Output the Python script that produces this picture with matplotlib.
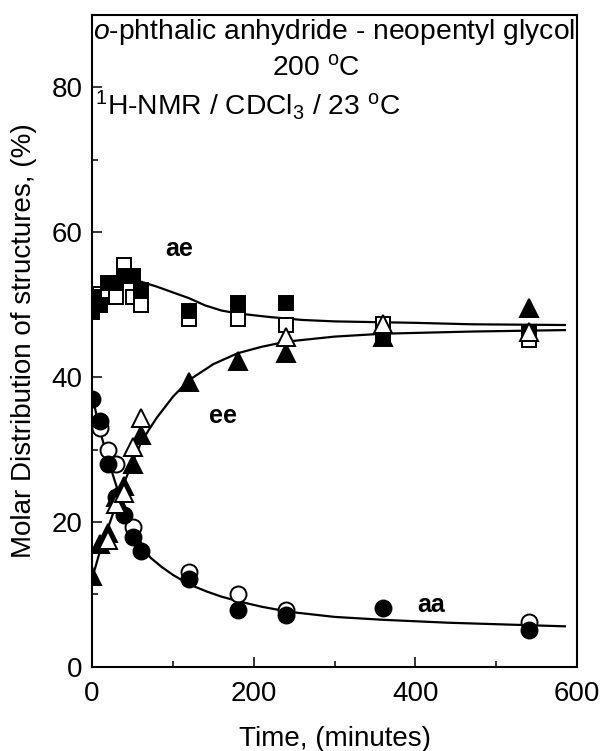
import numpy as np
import matplotlib
matplotlib.use('Agg')
import matplotlib.pyplot as plt

plt.rcParams['font.family'] = ['Liberation Sans', 'DejaVu Sans']
plt.rcParams['mathtext.fontset'] = 'custom'
plt.rcParams['mathtext.rm'] = 'Liberation Sans'
plt.rcParams['mathtext.it'] = 'Liberation Sans:italic'
plt.rcParams['mathtext.bf'] = 'Liberation Sans:bold'
plt.rcParams['mathtext.default'] = 'regular'

# ae structures (squares)
ae_t_fill = [0, 0, 10, 20, 30, 40, 50, 60, 120, 180, 240, 360, 540]
ae_fill = [51, 49, 50, 53, 53, 54, 54, 52, 49.1, 50.3, 50.3, 45.8, 46.2]
ae_t_open = [0, 10, 20, 30, 40, 50, 60, 120, 180, 240, 360, 540]
ae_open = [50, 51.5, 51, 51, 55.5, 51, 50, 48, 48.1, 47.2, 47.3, 45.2]

# ee structures (triangles)
ee_t_fill = [0, 10, 20, 30, 40, 50, 60, 120, 180, 240, 360, 540]
ee_fill = [12.5, 17, 18.5, 23.5, 25, 28, 32, 39.4, 42.2, 43.4, 45.5, 49.6]
ee_t_open = [20, 30, 40, 50, 60, 240, 360, 540]
ee_open = [17.5, 22.5, 24, 30.3, 34.4, 45.5, 47.3, 46.3]

# aa structures (circles)
aa_t_fill = [0, 10, 20, 30, 40, 50, 60, 120, 180, 240, 360, 540]
aa_fill = [37, 34, 28, 23.5, 21, 18, 16, 12.2, 7.9, 7.1, 8.1, 5.1]
aa_t_open = [10, 20, 30, 50, 120, 180, 240, 540]
aa_open = [33, 30, 28, 19.3, 13.1, 10.1, 7.9, 6.2]

# fitted curves
ae_curve_t = [0, 10, 20, 30, 40, 50, 60, 80, 100, 120, 140, 160, 180, 220, 260, 300, 350, 400, 470, 585]
ae_curve = [50.5, 51.6, 52.6, 53.3, 53.6, 53.6, 53.2, 52.5, 51.7, 50.9, 49.9, 49.2, 48.8, 48.3, 47.9, 47.7, 47.6, 47.5, 47.3, 47.2]
ee_curve_t = [0, 8, 16, 30, 40, 50, 60, 70, 80, 100, 120, 150, 180, 210, 240, 300, 360, 470, 585]
ee_curve = [12.2, 15.3, 18, 22.5, 25.5, 28.3, 30.8, 32.7, 34.4, 37.3, 39.6, 41.8, 43.3, 44.2, 44.9, 45.6, 46.0, 46.3, 46.5]
aa_curve_t = [0, 10, 20, 30, 40, 50, 60, 72, 86, 100, 120, 142, 160, 183, 210, 244, 300, 360, 440, 585]
aa_curve = [37.5, 32.5, 28.5, 25, 22, 19.4, 17.2, 15.1, 13.8, 12.7, 11.4, 10.4, 9.7, 9.0, 8.3, 7.6, 6.9, 6.5, 6.1, 5.6]

fig = plt.figure(figsize=(6.1, 7.51), dpi=100)
ax = fig.add_axes([0.151, 0.112, 0.795, 0.868])

lw = 1.6
ax.plot(ae_curve_t, ae_curve, color='black', lw=lw, zorder=2)
ax.plot(ee_curve_t, ee_curve, color='black', lw=lw, zorder=2)
ax.plot(aa_curve_t, aa_curve, color='black', lw=lw, zorder=2)

mew = 1.4
ax.plot(ae_t_open, ae_open, 's', ms=10, mfc='white', mec='black', mew=mew, ls='none', zorder=3)
ax.plot(aa_t_open, aa_open, 'o', ms=11.5, mfc='white', mec='black', mew=mew, ls='none', zorder=3)
ax.plot(ae_t_fill, ae_fill, 's', ms=10, mfc='black', mec='black', mew=mew, ls='none', zorder=4)
ax.plot(aa_t_fill, aa_fill, 'o', ms=11.5, mfc='black', mec='black', mew=mew, ls='none', zorder=4)
ax.plot(ee_t_fill, ee_fill, '^', ms=13, mfc='black', mec='black', mew=mew, ls='none', zorder=4)
ax.plot(ee_t_open, ee_open, '^', ms=13, mfc='white', mec='black', mew=mew, ls='none', zorder=5)

ax.set_xlim(0, 600)
ax.set_ylim(0, 90)
ax.set_xticks([0, 200, 400, 600])
ax.set_xticks([100, 300, 500], minor=True)
ax.set_yticks([0, 20, 40, 60, 80])
ax.set_yticks([10, 30, 50, 70], minor=True)
ax.tick_params(which='both', direction='in', width=1.1, labelsize=20)
ax.tick_params(which='major', length=7)
ax.tick_params(which='minor', length=4)
ax.tick_params(axis='x', pad=10)
ax.tick_params(axis='y', pad=7)
for s in ax.spines.values():
    s.set_linewidth(1.5)

ax.set_xlabel('Time, (minutes)', fontsize=20, labelpad=14)
ax.set_ylabel('Molar Distribution of structures, (%)', fontsize=20, labelpad=10)

ax.text(300, 87.6, r'$\mathit{o}$-phthalic anhydride - neopentyl glycol', ha='center', va='center', fontsize=20.3)
ax.text(277, 82.6, r'200 $^{o}$C', ha='center', va='center', fontsize=20.3)
ax.text(3, 77.5, r'$^{1}$H-NMR / CDCl$_{3}$ / 23 $^{o}$C', ha='left', va='center', fontsize=20.3)

ax.text(108, 57.7, 'ae', ha='center', va='center', fontsize=18, fontweight='bold')
ax.text(162, 34.6, 'ee', ha='center', va='center', fontsize=18, fontweight='bold')
ax.text(420, 8.5, 'aa', ha='center', va='center', fontsize=18, fontweight='bold')

fig.savefig('out.png', dpi=100)
